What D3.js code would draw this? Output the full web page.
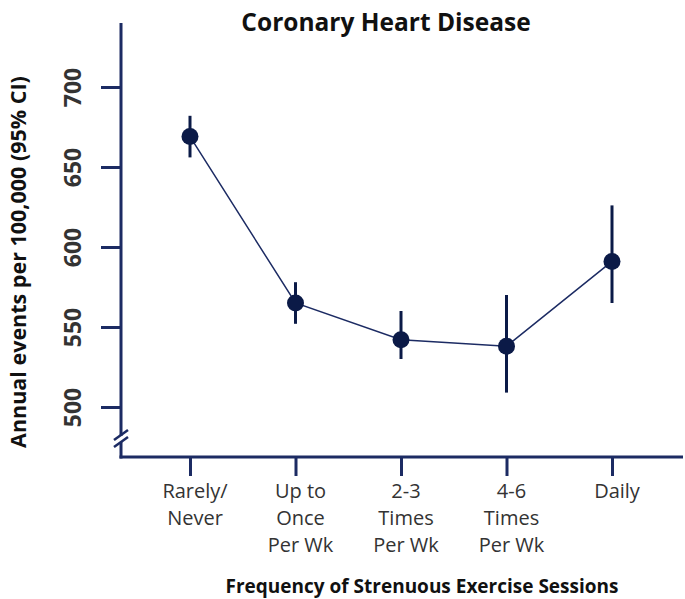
<!DOCTYPE html>
<html><head><meta charset="utf-8">
<script src="https://cdn.jsdelivr.net/npm/d3@7"></script>
<style>body{margin:0;background:#fff}svg{display:block}text{font-family:"Open Sans",Lato,sans-serif}</style>
</head><body><svg id="c" width="685" height="599"></svg>
<script>
const categories = ["Rarely/Never","Up to Once Per Wk","2-3 Times Per Wk","4-6 Times Per Wk","Daily"];
const categoryLines = [["Rarely/","Never"],["Up to","Once","Per Wk"],["2-3","Times","Per Wk"],["4-6","Times","Per Wk"],["Daily"]];
const estimates = [669, 565, 542, 538, 591];
const ciLower = [656, 552, 530, 509, 565];
const ciUpper = [682, 578, 560, 570, 626];
const yTicks = [500, 550, 600, 650, 700];
const title = "Coronary Heart Disease";
const yTitle = "Annual events per 100,000 (95% CI)";
const xTitle = "Frequency of Strenuous Exercise Sessions";

const navy = "#1c2b63", dark = "#0b1a47";
const svg = d3.select("#c");
const axisX = 121, axisY = 457;
const y = d3.scaleLinear().domain([500, 700]).range([407, 87]);
const x = d3.scalePoint().domain(categories).range([190, 612]);

// title
svg.append("text").attr("x", 386).attr("y", 31).attr("text-anchor", "middle")
  .attr("font-size", 24.5).attr("font-weight", 700).attr("fill", "#111").text(title);

// y axis
const ya = svg.append("g").attr("transform", `translate(${axisX},0)`)
  .call(d3.axisLeft(y).tickValues(yTicks).tickSize(20).tickFormat(d3.format("d")));
ya.select(".domain").remove();
ya.selectAll(".tick line").attr("stroke", navy).attr("stroke-width", 3);
ya.selectAll(".tick text").attr("x", null).attr("dy", null)
  .attr("transform", "translate(-40,0) rotate(-90)").attr("text-anchor", "middle")
  .attr("font-size", 23).attr("font-weight", 700).attr("fill", "#333")
  .style("font-family", "'Open Sans'");
svg.append("line").attr("x1", axisX).attr("x2", axisX).attr("y1", y(740)).attr("y2", axisY + 1.5)
  .attr("stroke", navy).attr("stroke-width", 3);
// break marks
svg.append("rect").attr("x", axisX - 3).attr("y", 436).attr("width", 6).attr("height", 6).attr("fill", "#fff");
[433, 440].forEach(b => svg.append("line").attr("x1", axisX - 7).attr("y1", b + 7).attr("x2", axisX + 7).attr("y2", b - 3)
  .attr("stroke", navy).attr("stroke-width", 2.5));

// x axis
const xa = svg.append("g").attr("transform", `translate(0,${axisY})`)
  .call(d3.axisBottom(x).tickSize(19).tickFormat(""));
xa.select(".domain").remove();
xa.selectAll(".tick line").attr("stroke", navy).attr("stroke-width", 3);
svg.append("line").attr("x1", axisX - 1.5).attr("x2", 683).attr("y1", axisY).attr("y2", axisY)
  .attr("stroke", navy).attr("stroke-width", 3);
categories.forEach((c, i) => {
  const t = svg.append("text").attr("text-anchor", "middle").attr("font-size", 20).attr("fill", "#333")
    .attr("transform", `translate(${x(c) + 5},0)`);
  categoryLines[i].forEach((l, j) => t.append("tspan").attr("x", 0).attr("y", 498 + j * 27).text(l));
});

// axis titles
svg.append("text").attr("x", 422).attr("y", 593).attr("text-anchor", "middle")
  .attr("font-size", 19).attr("font-weight", 700).attr("fill", "#111").text(xTitle);
svg.append("text").attr("transform", "translate(26,262) rotate(-90)").attr("text-anchor", "middle")
  .attr("font-size", 21.5).attr("font-weight", 700).attr("fill", "#111").text(yTitle);

// data
const line = d3.line().x((d, i) => x(categories[i])).y(d => y(d));
svg.append("path").datum(estimates).attr("d", line).attr("fill", "none").attr("stroke", navy).attr("stroke-width", 1.5);
svg.selectAll(".err").data(categories).join("line").attr("class", "err")
  .attr("x1", d => x(d)).attr("x2", d => x(d))
  .attr("y1", (d, i) => y(ciLower[i])).attr("y2", (d, i) => y(ciUpper[i]))
  .attr("stroke", dark).attr("stroke-width", 3);
svg.selectAll(".pt").data(categories).join("circle").attr("class", "pt")
  .attr("cx", d => x(d)).attr("cy", (d, i) => y(estimates[i])).attr("r", 8.5).attr("fill", dark);
</script></body></html>
